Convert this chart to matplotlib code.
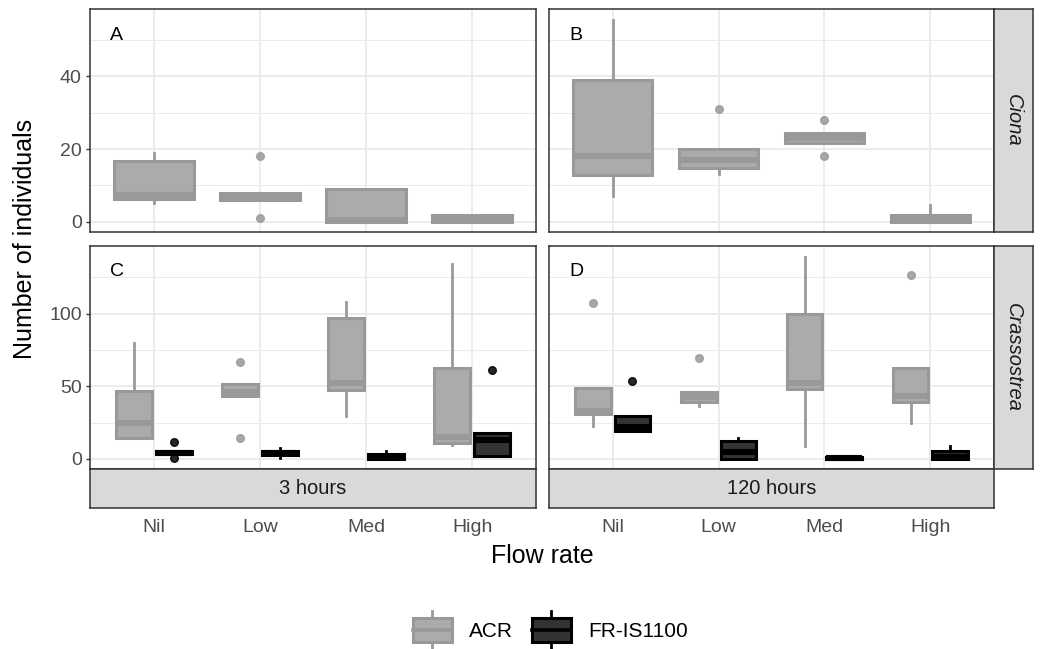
import matplotlib
matplotlib.use('Agg')
import matplotlib.pyplot as plt
from matplotlib.legend_handler import HandlerBase
from matplotlib.patches import Rectangle
from matplotlib.lines import Line2D

plt.rcParams['font.family'] = ['Liberation Sans', 'DejaVu Sans']

flow = ['Nil', 'Low', 'Med', 'High']
times = ['3 hours', '120 hours']
species = ['Ciona', 'Crassostrea']
panel_tags = [['A', 'B'], ['C', 'D']]

# (lower whisker, Q1, median, Q3, upper whisker) per flow rate
ciona_3h_acr = [(5.2, 6.3, 7.3, 16.8, 18.8), (6.0, 6.0, 7.0, 7.9, 7.9),
                (0, 0, 0.5, 9, 9), (0, 0, 0.5, 1.9, 1.9)]
ciona_3h_acr_out = [[], [18, 1], [], []]
ciona_120h_acr = [(7.2, 13.0, 18.0, 38.9, 55.6), (13.2, 14.7, 17.0, 19.9, 19.9),
                  (21.8, 21.8, 23.0, 24.3, 24.3), (0, 0, 0.5, 2, 4.7)]
ciona_120h_acr_out = [[], [31], [28, 18], []]

crass_3h_acr = [(14.4, 14.4, 25, 46.8, 80), (43.4, 43.4, 45.7, 51.4, 51.4),
                (29.7, 47.5, 52, 96.8, 108), (9.6, 11, 15, 62.6, 134)]
crass_3h_acr_out = [[], [66.5, 14.4], [], []]
crass_3h_fr = [(3.0, 3.0, 4.3, 5.7, 5.7), (0.7, 2.5, 4, 5.5, 7.5),
               (0, 0, 1.5, 3.4, 5.2), (1.8, 1.8, 13, 17.6, 17.6)]
crass_3h_fr_out = [[11.4, 0.9], [], [], [61.4]]
crass_120h_acr = [(22.8, 30.8, 33.1, 48.6, 48.6), (36.7, 39, 42.5, 45.7, 45.7),
                  (8.7, 48.4, 52.5, 99.8, 139.3), (24.7, 39, 43.4, 62.8, 62.8)]
crass_120h_acr_out = [[107.5], [69.4], [], [126.7]]
crass_120h_fr = [(19.4, 19.4, 21.7, 29.7, 29.7), (0, 0, 4.6, 12.6, 14.4),
                 (0, 0, 0.5, 1.5, 1.5), (0, 0, 1.6, 5.7, 9.1)]
crass_120h_fr_out = [[53.6], [], [], []]

acr_edge, acr_fill = '#999999', '#ababab'
fr_edge, fr_fill = '#000000', '#333333'

W, H = 1042, 649
fig = plt.figure(figsize=(W / 100, H / 100), dpi=100)


def rect(l, t, r, b):
    return [l / W, 1 - b / H, (r - l) / W, (b - t) / H]


def stats(five, outs):
    res = []
    for (lo, q1, med, q3, hi), fl in zip(five, outs):
        res.append(dict(whislo=lo, q1=q1, med=med, q3=q3, whishi=hi, fliers=fl))
    return res


def draw(ax, five, outs, pos, width, ec, fc):
    ax.bxp(stats(five, outs), positions=pos, widths=width, patch_artist=True,
           showcaps=False, manage_ticks=False,
           boxprops=dict(facecolor=fc, edgecolor=ec, linewidth=2.2),
           medianprops=dict(color=ec, linewidth=4.4, solid_capstyle='butt'),
           whiskerprops=dict(color=ec, linewidth=2.0),
           flierprops=dict(marker='o', markerfacecolor=ec, markeredgecolor=ec,
                           markersize=5.5, alpha=0.85))


cols = [(90, 536), (549, 994)]
rows = [(9.5, 232), (246, 469)]
ylims = [(-2.8, 58.4), (-7, 146.6)]
majors = [[0, 20, 40], [0, 50, 100]]
minors = [[10, 30, 50], [25, 75, 125]]

data = {
    (0, 0): [(ciona_3h_acr, ciona_3h_acr_out, 0.0, 0.75, acr_edge, acr_fill)],
    (0, 1): [(ciona_120h_acr, ciona_120h_acr_out, 0.0, 0.75, acr_edge, acr_fill)],
    (1, 0): [(crass_3h_acr, crass_3h_acr_out, -0.1875, 0.3375, acr_edge, acr_fill),
             (crass_3h_fr, crass_3h_fr_out, 0.1875, 0.3375, fr_edge, fr_fill)],
    (1, 1): [(crass_120h_acr, crass_120h_acr_out, -0.1875, 0.3375, acr_edge, acr_fill),
             (crass_120h_fr, crass_120h_fr_out, 0.1875, 0.3375, fr_edge, fr_fill)],
}

xs = list(range(1, len(flow) + 1))
for r, (t, b) in enumerate(rows):
    for c, (l, rr) in enumerate(cols):
        ax = fig.add_axes(rect(l, t, rr, b))
        ax.set_xlim(0.4, 4.6)
        ax.set_ylim(*ylims[r])
        ax.set_yticks(majors[r])
        ax.set_yticks(minors[r], minor=True)
        ax.set_xticks(xs)
        ax.set_axisbelow(True)
        ax.grid(which='major', color='#ebebeb', linewidth=1.3)
        ax.grid(which='minor', axis='y', color='#ebebeb', linewidth=0.7)
        for s in ax.spines.values():
            s.set_color('#333333')
            s.set_linewidth(1.1)
        for five, outs, off, wdt, ec, fc in data[(r, c)]:
            draw(ax, five, outs, [x + off for x in xs], wdt, ec, fc)
        ax.tick_params(axis='y', which='minor', length=0)
        ax.tick_params(axis='y', which='major', length=3, width=1, color='#333333',
                       labelsize=14, labelcolor='#4d4d4d', pad=3)
        if c == 1:
            ax.tick_params(axis='y', which='major', length=0, labelleft=False)
        if r == 1:
            ax.set_xticklabels(flow)
            ax.tick_params(axis='x', length=0, pad=36, labelsize=14,
                           labelcolor='#4d4d4d')
        else:
            ax.tick_params(axis='x', length=0, labelbottom=False)
        ax.text(0.045, 0.885, panel_tags[r][c], transform=ax.transAxes,
                fontsize=14, color='black', ha='left', va='center')

        if c == 1:
            sax = fig.add_axes(rect(994, t, 1033, b))
            sax.set_facecolor('#d9d9d9')
            sax.set_xticks([])
            sax.set_yticks([])
            for s in sax.spines.values():
                s.set_color('#333333')
                s.set_linewidth(1.1)
            sax.text(0.5, 0.5, species[r], transform=sax.transAxes, rotation=-90,
                     style='italic', fontsize=14.5, color='#1a1a1a',
                     ha='center', va='center')
        if r == 1:
            sax = fig.add_axes(rect(l, 469, rr, 508))
            sax.set_facecolor('#d9d9d9')
            sax.set_xticks([])
            sax.set_yticks([])
            for s in sax.spines.values():
                s.set_color('#333333')
                s.set_linewidth(1.1)
            sax.text(0.5, 0.5, times[c], transform=sax.transAxes,
                     fontsize=14.5, color='#1a1a1a', ha='center', va='center')

fig.text(25 / W, 1 - 239 / H, 'Number of individuals', rotation=90,
         fontsize=18, ha='center', va='center')
fig.text(542 / W, 1 - 556 / H, 'Flow rate', fontsize=18, ha='center', va='center')


class BoxKey:
    def __init__(self, ec, fc):
        self.ec, self.fc = ec, fc


class BoxKeyHandler(HandlerBase):
    def create_artists(self, legend, h, xd, yd, w, hh, fs, trans):
        x0, y0 = -xd, -yd
        cx = x0 + w / 2
        box = Rectangle((x0, y0 + hh * 0.1), w, hh * 0.8, facecolor=h.fc,
                        edgecolor=h.ec, linewidth=2.2, transform=trans)
        med = Line2D([x0, x0 + w], [y0 + hh / 2] * 2, color=h.ec, linewidth=2.6,
                     transform=trans)
        up = Line2D([cx, cx], [y0 + hh * 0.9, y0 + hh * 1.15], color=h.ec,
                    linewidth=2.0, transform=trans)
        dn = Line2D([cx, cx], [y0 - hh * 0.15, y0 + hh * 0.1], color=h.ec,
                    linewidth=2.0, transform=trans)
        return [up, dn, box, med]


keys = [BoxKey(acr_edge, acr_fill), BoxKey(fr_edge, fr_fill)]
fig.legend(keys, ['ACR', 'FR-IS1100'], handler_map={BoxKey: BoxKeyHandler()},
           loc='center', bbox_to_anchor=(550 / W, 1 - 630 / H), ncol=2,
           frameon=False, fontsize=15, handlelength=1.9, handleheight=1.8,
           handletextpad=0.8, columnspacing=0.9)

fig.savefig('out.png', dpi=100)
